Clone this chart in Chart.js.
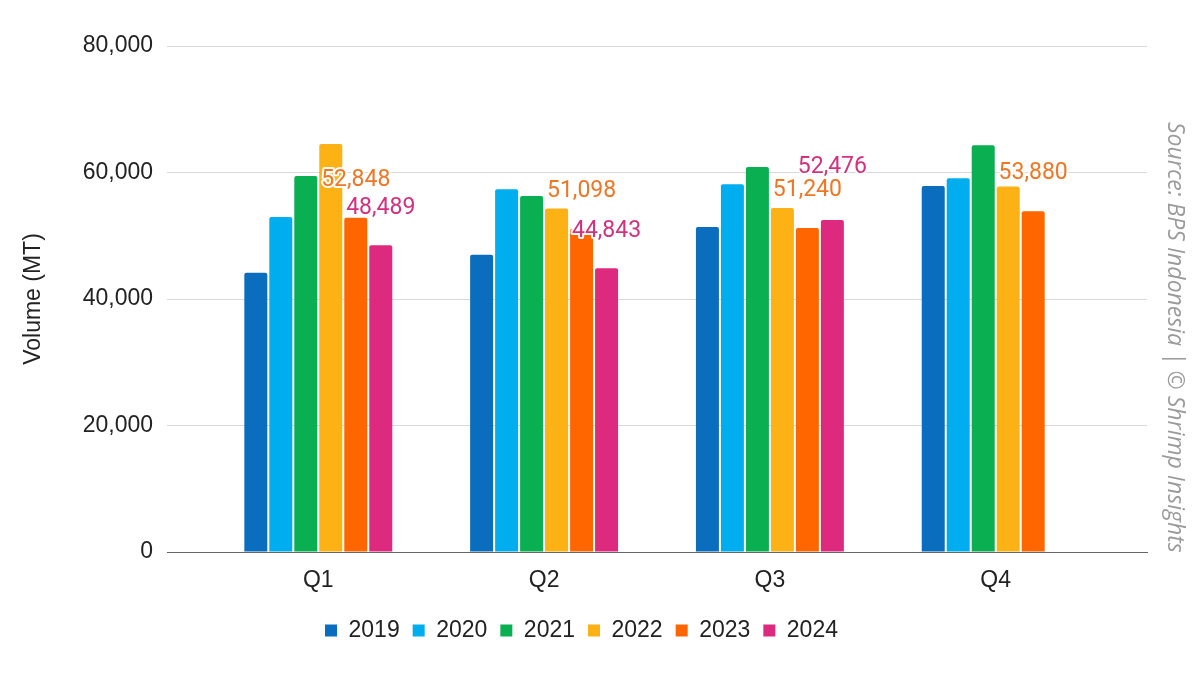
<!DOCTYPE html>
<html>
<head>
<meta charset="utf-8">
<script src="https://cdn.jsdelivr.net/npm/chart.js@4.4.1/dist/chart.umd.min.js"></script>
<style>
  html, body { margin: 0; padding: 0; background: #ffffff; }
  #wrap { width: 1200px; height: 675px; position: relative; }
</style>
</head>
<body>
<div id="wrap"><canvas id="c"></canvas></div>
<script>
// ---- data ----
const quarters = ['Q1', 'Q2', 'Q3', 'Q4'];
const years = ['2019', '2020', '2021', '2022', '2023', '2024'];
const v2019 = [44150, 47000, 51400, 57850];
const v2020 = [52950, 57350, 58150, 59100];
const v2021 = [59450, 56300, 60850, 64300];
const v2022 = [64500, 54300, 54400, 57800];
const v2023 = [52848, 51098, 51240, 53880];
const v2024 = [48489, 44843, 52476, null];
const yTicks = [0, 20000, 40000, 60000, 80000];
const sourceText = 'Source: BPS Indonesia | \u00A9 Shrimp Insights';

const seriesValues = [v2019, v2020, v2021, v2022, v2023, v2024];
const barColors = ['#0B6DBD', '#00AEEF', '#09AF50', '#FCB115', '#FF6600', '#DD2A7F'];
const labelColors = [null, null, null, null, '#EE7625', '#D3317E'];

const datasets = years.map((y, i) => ({
  label: y,
  data: quarters.map((q, j) => ({ x: j + 1, y: seriesValues[i][j] })),
  backgroundColor: barColors[i],
  borderWidth: 0,
  borderRadius: { topLeft: 2, topRight: 2, bottomLeft: 0, bottomRight: 0 },
  borderSkipped: 'start',
  categoryPercentage: 0.664,
  barPercentage: 0.92,
  valueLabelColor: labelColors[i]
}));

// value labels placed above bars, nudged upward when they would collide
const valueLabels = {
  id: 'valueLabels',
  afterDatasetsDraw(chart) {
    const ctx = chart.ctx;
    ctx.save();
    ctx.font = '23px Roboto, "Liberation Sans", sans-serif';
    ctx.textAlign = 'center';
    ctx.textBaseline = 'middle';
    ctx.lineJoin = 'round';
    const placed = [];
    const boxH = 22;
    const items = [];
    chart.data.datasets.forEach((ds, di) => {
      if (!ds.valueLabelColor) return;
      const meta = chart.getDatasetMeta(di);
      meta.data.forEach((el, k) => {
        const v = ds.data[k].y;
        if (v === null || v === undefined) return;
        items.push({ el, v, color: ds.valueLabelColor });
      });
    });
    items.forEach(it => {
      const txt = it.v.toLocaleString('en-US');
      const w = ctx.measureText(txt).width;
      const x = it.el.x;
      let y = it.el.y - 37.5;
      const overlaps = (yy) => placed.some(p =>
        Math.abs(p.x - x) < (p.w + w) / 2 && Math.abs(p.y - yy) < boxH);
      let guard = 0;
      while (overlaps(y) && guard < 200) { y -= 1; guard++; }
      placed.push({ x, y, w });
      ctx.strokeStyle = 'rgba(255,255,255,0.95)';
      ctx.lineWidth = 4;
      ctx.strokeText(txt, x, y);
      ctx.fillStyle = it.color;
      ctx.fillText(txt, x, y);
    });
    ctx.restore();
  }
};

const sideNote = {
  id: 'sideNote',
  afterDraw(chart) {
    const ctx = chart.ctx;
    ctx.save();
    ctx.translate(1175, 122);
    ctx.rotate(Math.PI / 2);
    ctx.font = 'italic 23px "Open Sans", "DejaVu Sans", sans-serif';
    ctx.fillStyle = '#9B9B9B';
    ctx.textAlign = 'left';
    ctx.textBaseline = 'middle';
    ctx.fillText(sourceText, 0, 0);
    ctx.restore();
  }
};

const axisFont = { family: '"Liberation Sans", Arial, sans-serif', size: 23 };

new Chart(document.getElementById('c'), {
  type: 'bar',
  data: { datasets },
  options: {
    responsive: true,
    maintainAspectRatio: false,
    animation: false,
    layout: { padding: { top: 46, right: 53, bottom: 23, left: 16 } },
    plugins: {
      legend: {
        position: 'bottom',
        labels: {
          boxWidth: 12,
          boxHeight: 12,
          padding: 13,
          color: '#222222',
          font: { family: '"Liberation Sans", Arial, sans-serif', size: 23 }
        }
      },
      tooltip: { enabled: false }
    },
    scales: {
      x: {
        type: 'linear',
        min: 0.33,
        max: 4.67,
        offset: false,
        grid: { display: false, drawTicks: false, offset: false },
        border: { display: true, color: '#666666', width: 1 },
        afterBuildTicks: (s) => { s.ticks = quarters.map((q, i) => ({ value: i + 1 })); },
        afterFit: (s) => { s.height = 54; },
        ticks: {
          autoSkip: false,
          maxRotation: 0,
          padding: 15,
          color: '#222222',
          font: axisFont,
          callback: (v) => quarters[Math.round(v) - 1] || ''
        }
      },
      y: {
        min: 0,
        max: 80000,
        afterBuildTicks: (s) => { s.ticks = yTicks.map(v => ({ value: v })); },
        afterFit: (s) => { s.width = 151; },
        grid: {
          drawTicks: false,
          color: (c) => (c.tick && c.tick.value === 0) ? '#666666' : '#D9D9D9',
          lineWidth: 1
        },
        border: { display: false },
        ticks: {
          padding: 14,
          color: '#222222',
          font: axisFont,
          callback: (v) => Number(v).toLocaleString('en-US')
        },
        title: {
          display: true,
          text: 'Volume (MT)',
          color: '#222222',
          font: axisFont,
          padding: { top: 4, bottom: 0 }
        }
      }
    }
  },
  plugins: [valueLabels, sideNote]
});
</script>
</body>
</html>
